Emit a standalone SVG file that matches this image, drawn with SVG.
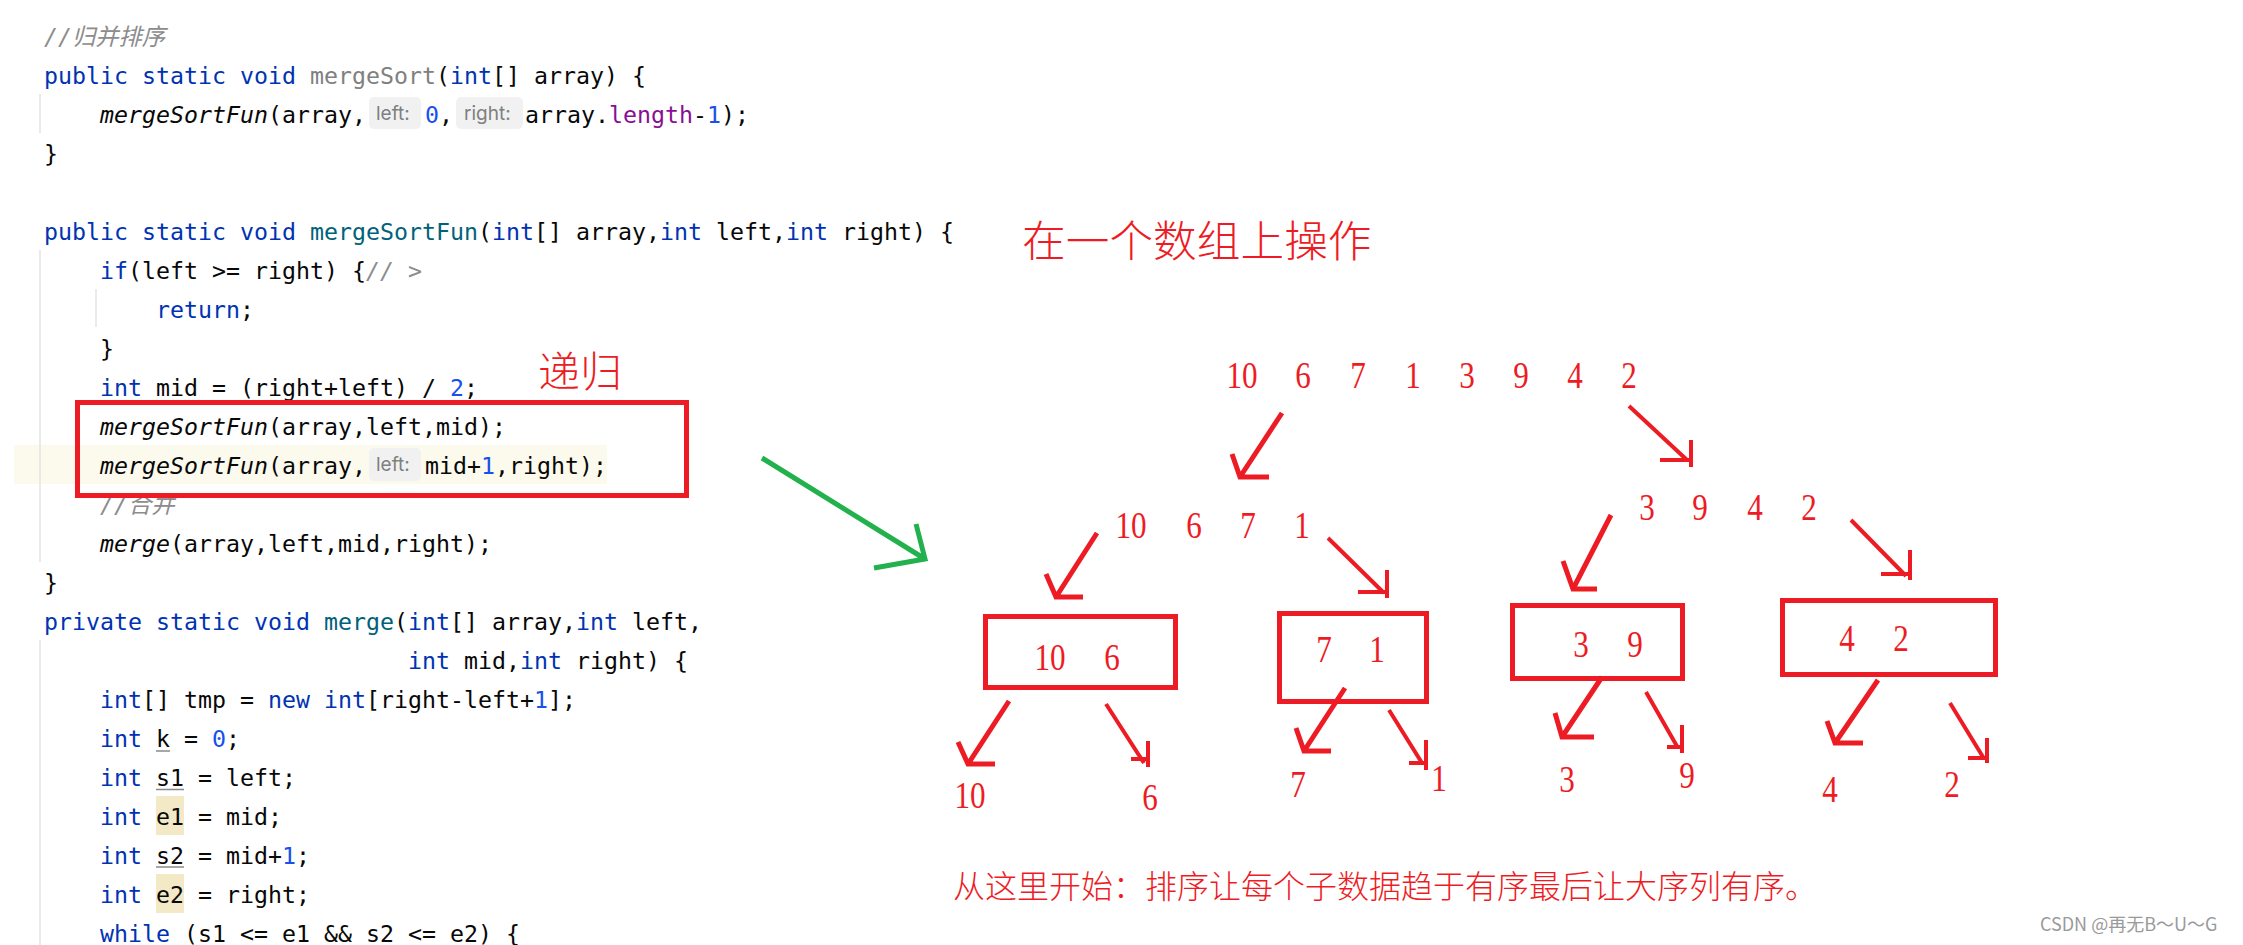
<svg xmlns="http://www.w3.org/2000/svg" width="2243" height="945" viewBox="0 0 2243 945">
<defs>
<style>
.code{font-family:"DejaVu Sans Mono","Noto Sans CJK SC",monospace;font-size:23.25px;fill:#080808}
.kw{fill:#0033b3}
.fn{fill:#00627a}
.un{fill:#808080}
.num{fill:#1750eb}
.fld{fill:#871094}
.it{font-style:italic}
.cm{fill:#8c8c8c;font-style:italic}
.hintbox{fill:#f1f1f1}
.hint{font-family:Inter,"Liberation Sans",sans-serif;font-size:19px;fill:#7f7f7f}
.guide{stroke:#e3e3e3;stroke-width:1.5}
.ul{stroke:#8a8a8a;stroke-width:1.5}
.mark{fill:#f4e9c6}
.cn{font-family:"Noto Sans CJK SC",sans-serif;fill:#ed1c24;font-weight:300}
.d{font-family:"Liberation Serif",serif;font-size:38px;fill:#ed1c24;text-anchor:middle}
.box{fill:none;stroke:#ed1c24;stroke-width:5}
.al{fill:none;stroke:#ed1c24;stroke-width:5}
.ar{fill:none;stroke:#ed1c24;stroke-width:4}
.gr{fill:none;stroke:#22b14c;stroke-width:5}
.wm{font-family:"Noto Sans CJK SC",sans-serif;font-size:18px;fill:#9a9a9a}
</style>
</defs>
<rect x="0" y="0" width="2243" height="945" fill="#ffffff"/>

<g id="code">
<rect x="14" y="445" width="593" height="39" fill="#fcfaed"/>
<line class="guide" x1="40" y1="94" x2="40" y2="133"/>
<line class="guide" x1="40" y1="250" x2="40" y2="562"/>
<line class="guide" x1="96" y1="289" x2="96" y2="327"/>
<line class="guide" x1="40" y1="640" x2="40" y2="945"/>
<rect class="mark" x="156" y="796" width="28" height="39"/>
<rect class="mark" x="156" y="874" width="28" height="39"/>
<line class="ul" x1="156" y1="751" x2="170" y2="751"/>
<line class="ul" x1="156" y1="789.5" x2="184" y2="789.5"/>
<line class="ul" x1="156" y1="867" x2="184" y2="867"/>

<text class="code cm" x="44" y="45">//归并排序</text>
<text class="code" x="44" y="84"><tspan class="kw">public</tspan> <tspan class="kw">static</tspan> <tspan class="kw">void</tspan> <tspan class="un">mergeSort</tspan>(<tspan class="kw">int</tspan>[] array) {</text>
<text class="code" x="100" y="123"><tspan class="it">mergeSortFun</tspan>(array,</text>
<rect class="hintbox" x="369" y="97" width="52" height="32" rx="5"/>
<text class="hint" x="376" y="120">left:</text>
<text class="code" x="425" y="123"><tspan class="num">0</tspan>,</text>
<rect class="hintbox" x="456" y="97" width="67" height="32" rx="5"/>
<text class="hint" x="464" y="120">right:</text>
<text class="code" x="525" y="123">array.<tspan class="fld">length</tspan>-<tspan class="num">1</tspan>);</text>
<text class="code" x="44" y="162">}</text>
<text class="code" x="44" y="240"><tspan class="kw">public</tspan> <tspan class="kw">static</tspan> <tspan class="kw">void</tspan> <tspan class="fn">mergeSortFun</tspan>(<tspan class="kw">int</tspan>[] array,<tspan class="kw">int</tspan> left,<tspan class="kw">int</tspan> right) {</text>
<text class="code" x="100" y="279"><tspan class="kw">if</tspan>(left &gt;= right) {<tspan class="cm">// &gt;</tspan></text>
<text class="code" x="156" y="318"><tspan class="kw">return</tspan>;</text>
<text class="code" x="100" y="357">}</text>
<text class="code" x="100" y="396"><tspan class="kw">int</tspan> mid = (right+left) / <tspan class="num">2</tspan>;</text>
<text class="code" x="100" y="435"><tspan class="it">mergeSortFun</tspan>(array,left,mid);</text>
<text class="code" x="100" y="474"><tspan class="it">mergeSortFun</tspan>(array,</text>
<rect class="hintbox" x="369" y="448" width="52" height="33" rx="5"/>
<text class="hint" x="376" y="471">left:</text>
<text class="code" x="425" y="474">mid+<tspan class="num">1</tspan>,right);</text>
<text class="code cm" x="100" y="513">//合并</text>
<text class="code" x="100" y="552"><tspan class="it">merge</tspan>(array,left,mid,right);</text>
<text class="code" x="44" y="591">}</text>
<text class="code" x="44" y="630"><tspan class="kw">private</tspan> <tspan class="kw">static</tspan> <tspan class="kw">void</tspan> <tspan class="fn">merge</tspan>(<tspan class="kw">int</tspan>[] array,<tspan class="kw">int</tspan> left,</text>
<text class="code" x="408" y="669"><tspan class="kw">int</tspan> mid,<tspan class="kw">int</tspan> right) {</text>
<text class="code" x="100" y="708"><tspan class="kw">int</tspan>[] tmp = <tspan class="kw">new</tspan> <tspan class="kw">int</tspan>[right-left+<tspan class="num">1</tspan>];</text>
<text class="code" x="100" y="747"><tspan class="kw">int</tspan> k = <tspan class="num">0</tspan>;</text>
<text class="code" x="100" y="786"><tspan class="kw">int</tspan> s1 = left;</text>
<text class="code" x="100" y="825"><tspan class="kw">int</tspan> e1 = mid;</text>
<text class="code" x="100" y="864"><tspan class="kw">int</tspan> s2 = mid+<tspan class="num">1</tspan>;</text>
<text class="code" x="100" y="903"><tspan class="kw">int</tspan> e2 = right;</text>
<text class="code" x="100" y="942"><tspan class="kw">while</tspan> (s1 &lt;= e1 &amp;&amp; s2 &lt;= e2) {</text>
</g>

<g id="recursion-mark">
<rect class="box" x="77.5" y="402.5" width="609" height="93"/>
<text class="cn" x="538" y="387" font-size="42">递归</text>
</g>

<g id="title">
<text class="cn" x="1022" y="257" font-size="43.7">在一个数组上操作</text>
</g>

<g id="row-all">
<text class="d" transform="translate(1242 388) scale(0.82 1)">10</text>
<text class="d" transform="translate(1303 388) scale(0.82 1)">6</text>
<text class="d" transform="translate(1358 388) scale(0.82 1)">7</text>
<text class="d" transform="translate(1413 388) scale(0.82 1)">1</text>
<text class="d" transform="translate(1467 388) scale(0.82 1)">3</text>
<text class="d" transform="translate(1521 388) scale(0.82 1)">9</text>
<text class="d" transform="translate(1575 388) scale(0.82 1)">4</text>
<text class="d" transform="translate(1629 388) scale(0.82 1)">2</text>
</g>

<g id="row-left">
<text class="d" transform="translate(1131 538) scale(0.82 1)">10</text>
<text class="d" transform="translate(1194 538) scale(0.82 1)">6</text>
<text class="d" transform="translate(1248 538) scale(0.82 1)">7</text>
<text class="d" transform="translate(1302 538) scale(0.82 1)">1</text>
</g>

<g id="row-right">
<text class="d" transform="translate(1647 520) scale(0.82 1)">3</text>
<text class="d" transform="translate(1700 520) scale(0.82 1)">9</text>
<text class="d" transform="translate(1755 520) scale(0.82 1)">4</text>
<text class="d" transform="translate(1809 520) scale(0.82 1)">2</text>
</g>

<g id="box-10-6">
<rect class="box" x="985.5" y="616.5" width="190" height="71"/>
<text class="d" transform="translate(1050 670) scale(0.82 1)">10</text>
<text class="d" transform="translate(1112 670) scale(0.82 1)">6</text>
</g>

<g id="box-7-1">
<rect class="box" x="1279.5" y="613.5" width="147" height="88"/>
<text class="d" transform="translate(1324 662) scale(0.82 1)">7</text>
<text class="d" transform="translate(1377 662) scale(0.82 1)">1</text>
</g>

<g id="box-3-9">
<rect class="box" x="1512.5" y="605.5" width="170" height="73"/>
<text class="d" transform="translate(1581 657) scale(0.82 1)">3</text>
<text class="d" transform="translate(1635 657) scale(0.82 1)">9</text>
</g>

<g id="box-4-2">
<rect class="box" x="1782.5" y="600.5" width="213" height="74"/>
<text class="d" transform="translate(1847 651) scale(0.82 1)">4</text>
<text class="d" transform="translate(1901 651) scale(0.82 1)">2</text>
</g>

<g id="leaves">
<text class="d" transform="translate(970 808) scale(0.82 1)">10</text>
<text class="d" transform="translate(1150 810) scale(0.82 1)">6</text>
<text class="d" transform="translate(1298 797) scale(0.82 1)">7</text>
<text class="d" transform="translate(1439 791) scale(0.82 1)">1</text>
<text class="d" transform="translate(1567 792) scale(0.82 1)">3</text>
<text class="d" transform="translate(1687 788) scale(0.82 1)">9</text>
<text class="d" transform="translate(1830 802) scale(0.82 1)">4</text>
<text class="d" transform="translate(1952 797) scale(0.82 1)">2</text>
</g>

<g id="note">
<text class="cn" x="953" y="898" font-size="32">从这里开始：排序让每个子数据趋于有序最后让大序列有序。</text>
</g>

<g id="connectors">
<path class="gr" d="M762 458 L925 559 M916 524 L925 559 L874 568"/>
<path class="al" d="M1282 413 L1240 477 M1232 454 L1240 477 L1269 477"/>
<path class="ar" d="M1629 406 L1687 460 M1691 440 L1691 467 M1660 460 L1691 460"/>
<path class="al" d="M1097 533 L1056 597 M1046 574 L1056 597 L1083 597"/>
<path class="ar" d="M1328 538 L1384 593 M1387 570 L1387 598 M1358 592 L1387 592"/>
<path class="al" d="M1611 515 L1573 589 M1563 561 L1573 589 L1597 589"/>
<path class="ar" d="M1851 520 L1906 576 M1910 550 L1910 580 M1881 574 L1910 574"/>
<path class="al" d="M1009 701 L968 764 M958 742 L968 764 L995 764"/>
<path class="ar" d="M1106 704 L1144 763 M1148 741 L1148 767 M1131 759 L1148 759"/>
<path class="al" d="M1345 688 L1304 751 M1296 728 L1304 751 L1331 751"/>
<path class="ar" d="M1389 710 L1422 763 M1426 740 L1426 770 M1409 763 L1426 763"/>
<path class="al" d="M1602 677 L1562 737 M1555 713 L1562 737 L1594 737"/>
<path class="ar" d="M1646 692 L1678 748 M1682 725 L1682 753 M1667 747 L1682 747"/>
<path class="al" d="M1878 680 L1835 743 M1827 721 L1835 743 L1863 743"/>
<path class="ar" d="M1950 703 L1983 757 M1987 738 L1987 763 M1968 758 L1987 758"/>
</g>

<g id="watermark">
<text class="wm" x="2040" y="931">CSDN @再无B～U～G</text>
</g>
</svg>
